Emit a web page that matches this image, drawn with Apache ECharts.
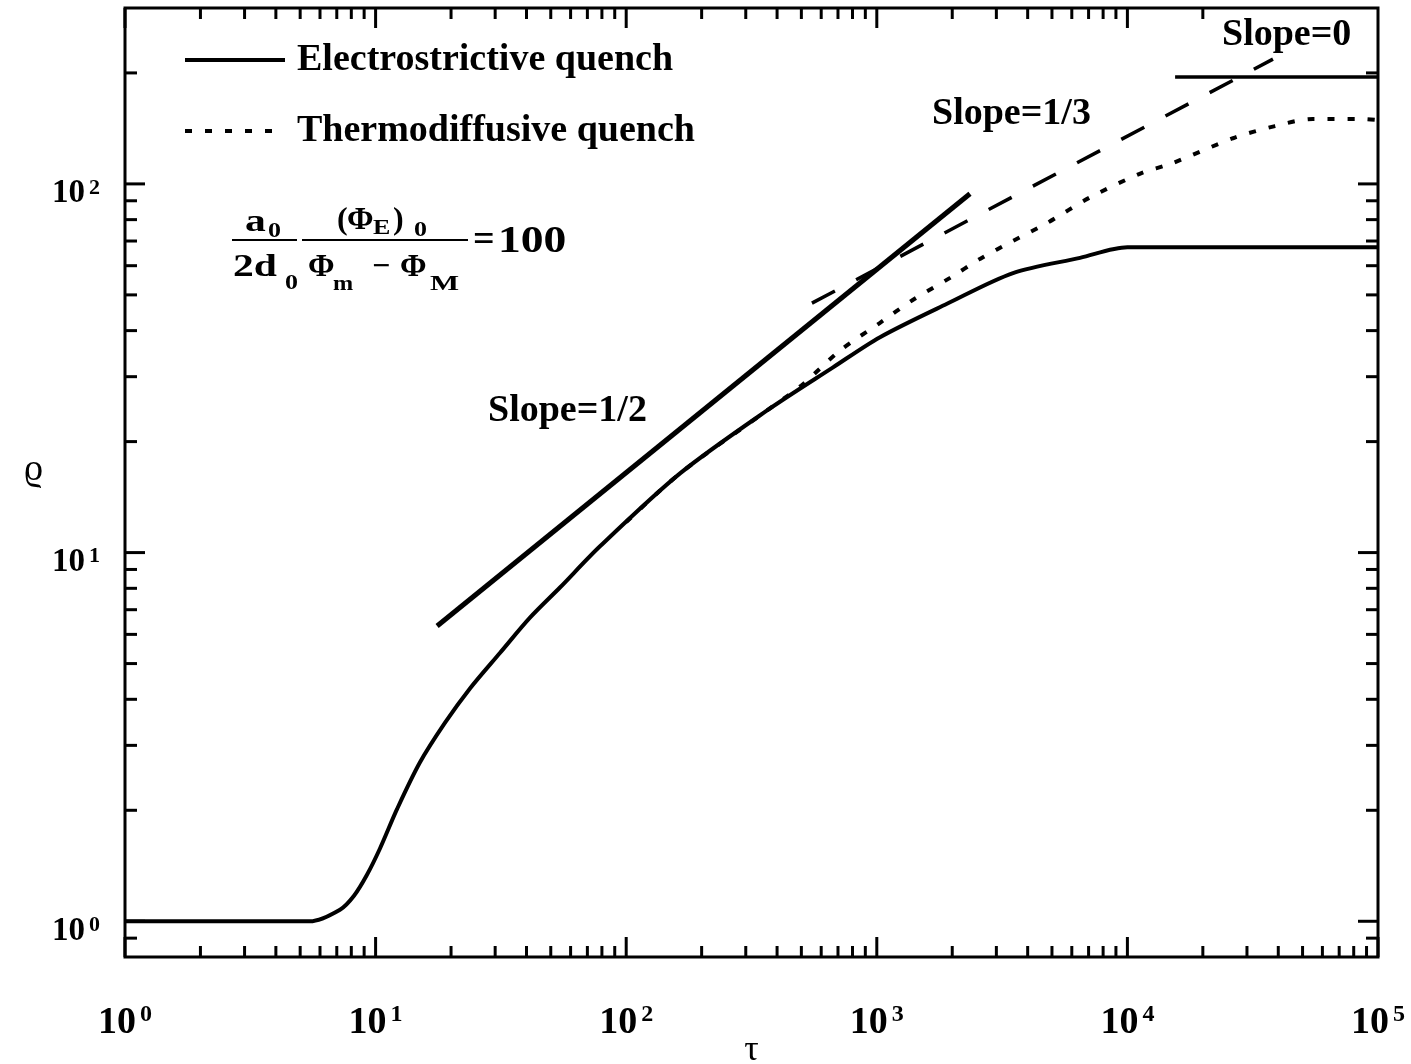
<!DOCTYPE html>
<html>
<head>
<meta charset="utf-8">
<script src="https://cdn.jsdelivr.net/npm/echarts@6/dist/echarts.min.js"></script>
<style>
html, body { margin: 0; padding: 0; background: #fff; }
#chart { width: 1411px; height: 1064px; }
</style>
</head>
<body>
<div id="chart"></div>
<script>
// electrostrictive quench (solid curve)
var tauElectro = [1, 3, 5.47, 7.21, 8.2, 9.24, 10.4, 12.2, 15.0, 18.9, 23.8, 31.4, 41.3, 54.4, 78.6, 164, 365, 669, 1030, 1906, 3496, 6470, 10000, 100000];
var rhoElectro = [1, 1, 1, 1.075, 1.173, 1.337, 1.573, 2.02, 2.69, 3.45, 4.28, 5.35, 6.66, 8.04, 10.4, 16.4, 24.3, 31.8, 38.4, 47.3, 57.3, 63.0, 67.3, 67.3];

// thermodiffusive quench (dotted curve)
var tauThermo = [100, 164, 365, 500, 713, 1030, 1396, 1960, 2580, 3500, 4780, 7090, 11200, 15100, 26400, 38800, 55000, 87000, 100000];
var rhoThermo = [12.1, 16.4, 24.3, 28.4, 35.3, 42.0, 48.5, 55.6, 62.6, 70.1, 78.3, 91.9, 106.5, 113.8, 133, 143.5, 150, 150, 149];

// asymptote guides
var tauHalf = [17.6, 2354], rhoHalf = [6.32, 94];
var tauThird = [551, 38100], rhoThird = [47.5, 218];
var tauZero = [15500, 100000], rhoZero = [195, 195];

// axis ticks
var xDecades = [1, 10, 100, 1000, 10000, 100000];
var yDecades = [0.1, 1, 10, 100];
var minorMult = [2, 3, 4, 5, 6, 7, 8, 9];

var serif = '"Liberation Serif", "DejaVu Serif", serif';

function zip(a, b) {
  return a.map(function (v, i) { return [v, b[i]]; });
}

function isDecade(v) {
  var e = Math.log10(v);
  return Math.abs(e - Math.round(e)) < 1e-6;
}

var xTicks = [], yTicks = [];
xDecades.forEach(function (d, i) {
  xTicks.push([d, 1, 1]);
  if (i < xDecades.length - 1) minorMult.forEach(function (m) { xTicks.push([d * m, 1, 0]); });
});
yDecades.forEach(function (d) {
  if (d >= 1) yTicks.push([1, d, 1]);
  minorMult.forEach(function (m) {
    var v = d * m;
    if (v > 0.8 && v < 300) yTicks.push([1, v, 0]);
  });
});

function xTickItem(params, api) {
  var v = api.value(0), major = api.value(2);
  var cs = params.coordSys;
  var x = api.coord([v, 1])[0];
  var len = major ? 20 : 11;
  var bot = cs.y + cs.height, top = cs.y;
  var st = { stroke: '#000', lineWidth: 3 };
  var kids = [{ type: 'line', shape: { x1: x, y1: bot, x2: x, y2: bot - len }, style: st }];
  if (v <= 20000) kids.push({ type: 'line', shape: { x1: x, y1: top, x2: x, y2: top + len }, style: st });
  return { type: 'group', children: kids };
}

function yTickItem(params, api) {
  var v = api.value(1), major = api.value(2);
  var cs = params.coordSys;
  var y = api.coord([1, v])[1];
  var len = major ? 20 : 12;
  var l = cs.x, r = cs.x + cs.width;
  var st = { stroke: '#000', lineWidth: 3 };
  return { type: 'group', children: [
    { type: 'line', shape: { x1: l, y1: y, x2: l + len, y2: y }, style: st },
    { type: 'line', shape: { x1: r, y1: y, x2: r - len, y2: y }, style: st }
  ] };
}

function txt(s, x, y, size, sx) {
  return {
    type: 'text', x: x, y: y, scaleX: sx || 1, silent: true,
    style: { text: s, fill: '#000', fontSize: size, fontWeight: 'bold', fontFamily: serif, verticalAlign: 'middle' }
  };
}
function bar(x1, x2, y) {
  return { type: 'line', silent: true, shape: { x1: x1, y1: y, x2: x2, y2: y }, style: { stroke: '#000', lineWidth: 2 } };
}

var myChart = echarts.init(document.getElementById('chart'));

var option = {
  animation: false,
  backgroundColor: '#fff',
  grid: {
    left: 125, top: 8, right: 33, bottom: 107,
    containLabel: false, outerBoundsMode: 'none',
    show: true, borderColor: '#000', borderWidth: 3, backgroundColor: 'transparent'
  },
  legend: {
    data: ['Electrostrictive quench', 'Thermodiffusive quench'],
    orient: 'vertical', left: 183, top: 40, padding: 0,
    itemWidth: 100, itemHeight: 40, itemGap: 31,
    itemStyle: { opacity: 0 },
    lineStyle: { width: 4 },
    selectedMode: false,
    textStyle: { fontFamily: serif, fontWeight: 'bold', fontSize: 38, lineHeight: 40, color: '#000', padding: [0, 0, 0, 7] }
  },
  xAxis: {
    type: 'log', logBase: 10, min: 1, max: 100000,
    name: 'τ', nameLocation: 'middle', nameGap: 76, nameMoveOverlap: false,
    nameTextStyle: { fontFamily: serif, fontSize: 36, color: '#000' },
    axisLine: { show: false }, axisTick: { show: false }, splitLine: { show: false },
    axisLabel: {
      margin: 46, color: '#000',
      formatter: function (v) {
        if (!isDecade(v)) return '';
        return '{b|10}{s|' + Math.round(Math.log10(v)) + '}';
      },
      rich: {
        b: { fontFamily: serif, fontWeight: 'bold', fontSize: 38, lineHeight: 40, color: '#000' },
        s: { fontFamily: serif, fontWeight: 'bold', fontSize: 24, lineHeight: 24, verticalAlign: 'top', padding: [0, 0, 0, 4], color: '#000' }
      }
    }
  },
  yAxis: {
    type: 'log', logBase: 10, min: 0.8, max: 300,
    name: 'ϱ', nameLocation: 'middle', nameGap: 82, nameRotate: 0, nameMoveOverlap: false,
    nameTextStyle: { fontFamily: serif, fontSize: 38, lineHeight: 24, verticalAlign: 'bottom', color: '#000' },
    axisLine: { show: false }, axisTick: { show: false }, splitLine: { show: false },
    axisLabel: {
      margin: 25, color: '#000', padding: [20, 0, 0, 0],
      formatter: function (v) {
        if (!isDecade(v)) return '';
        return '{b|10}{s|' + Math.round(Math.log10(v)) + '}';
      },
      rich: {
        b: { fontFamily: serif, fontWeight: 'bold', fontSize: 33, lineHeight: 34, color: '#000' },
        s: { fontFamily: serif, fontWeight: 'bold', fontSize: 22, lineHeight: 22, verticalAlign: 'top', padding: [0, 0, 0, 4], color: '#000' }
      }
    }
  },
  series: [
    {
      name: 'Electrostrictive quench', type: 'line', data: zip(tauElectro, rhoElectro),
      symbol: 'none', smooth: 0.3, lineStyle: { color: '#000', width: 4 }, itemStyle: { color: '#000' }, z: 3
    },
    {
      name: 'Thermodiffusive quench', type: 'line', data: zip(tauThermo, rhoThermo),
      symbol: 'none', smooth: 0.3, lineStyle: { color: '#000', width: 4, type: [7, 13] }, itemStyle: { color: '#000' }, z: 2
    },
    {
      name: 'slope 1/2', type: 'line', data: zip(tauHalf, rhoHalf),
      symbol: 'none', lineStyle: { color: '#000', width: 5 }, z: 4
    },
    {
      name: 'slope 1/3', type: 'line', data: zip(tauThird, rhoThird),
      symbol: 'none', lineStyle: { color: '#000', width: 3.5, type: [26, 24] }, z: 2
    },
    {
      name: 'slope 0', type: 'line', data: zip(tauZero, rhoZero),
      symbol: 'none', lineStyle: { color: '#000', width: 3.5 }, z: 2
    },
    { name: 'xticks', type: 'custom', data: xTicks, renderItem: xTickItem, silent: true, z: 5 },
    { name: 'yticks', type: 'custom', data: yTicks, renderItem: yTickItem, silent: true, z: 5 }
  ],
  graphic: [
    txt('Slope=0', 1222, 35, 38),
    txt('Slope=1/3', 932, 114, 38),
    txt('Slope=1/2', 488, 411, 38),
    // a0/2d0 * (ΦE)0/(Φm − ΦM) = 100
    txt('a', 245, 223, 32, 1.3),
    txt('0', 268, 232, 20, 1.3),
    bar(232, 297, 240),
    txt('2d', 233, 268, 32, 1.3),
    txt('0', 285, 284, 20, 1.3),
    txt('(', 337, 221, 32),
    txt('Φ', 347, 221, 32),
    txt('E', 373, 229, 20, 1.3),
    txt(')', 393, 221, 32),
    txt('0', 414, 231, 20, 1.3),
    bar(302, 468, 240),
    txt('Φ', 308, 268, 32),
    txt('m', 333, 284, 22, 1.1),
    txt('−', 372, 268, 32),
    txt('Φ', 400, 268, 32),
    txt('M', 430, 284, 22, 1.4),
    txt('=', 473, 241, 38),
    txt('100', 498, 242, 38, 1.2)
  ]
};

myChart.setOption(option);
</script>
</body>
</html>
